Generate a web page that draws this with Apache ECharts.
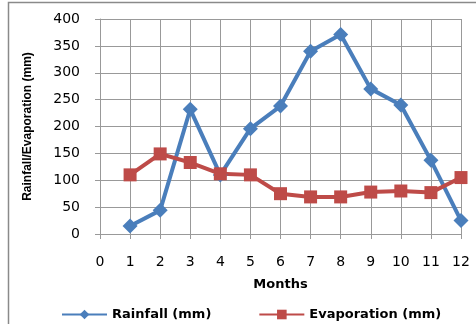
<!DOCTYPE html>
<html><head><meta charset="utf-8">
<script src="https://cdn.jsdelivr.net/npm/echarts@6/dist/echarts.min.js"></script>
<style>html,body{margin:0;padding:0;background:#fff;overflow:hidden}#c{width:476px;height:324px}</style>
</head><body><div id="c"></div>
<script>
var months = [1,2,3,4,5,6,7,8,9,10,11,12];
var rainfall = [15,44,232,110,196,238,340,371,270,240,137,25];
var evaporation = [110,149,133,112,110,75,69,69,78,80,77,105];
var seriesNames = ['Rainfall (mm)','Evaporation (mm)'];

function pairs(vals){ return months.map(function(m,i){ return [m, vals[i]]; }); }
var gridColor = '#999999';
var tickFont = 'DejaVu Sans, Verdana, sans-serif';
var chart = echarts.init(document.getElementById('c'), null, {renderer:'canvas'});
chart.setOption({
  animation:false,
  backgroundColor:'#fff',
  graphic:[{type:'rect', shape:{x:8.5,y:2.5,width:520,height:360}, style:{fill:'none',stroke:'#8a8a8a',lineWidth:1.5}, silent:true, z:-1}],
  grid:{left:100,right:15,top:19,bottom:90},
  xAxis:{type:'value',min:0,max:12,interval:1,
    name:'Months',nameLocation:'middle',nameGap:44,
    nameTextStyle:{fontFamily:tickFont,fontWeight:'bold',fontSize:13,color:'#000'},
    axisLine:{lineStyle:{color:gridColor}},
    axisTick:{show:true,length:5,lineStyle:{color:gridColor}},
    axisLabel:{fontFamily:tickFont,fontSize:14,color:'#000',margin:21},
    splitLine:{show:true,lineStyle:{color:gridColor,width:1}}},
  yAxis:{type:'value',min:0,max:400,interval:50,
    name:'Rainfall/Evaporation (mm)',nameLocation:'middle',nameGap:66,nameRotate:90,
    nameTextStyle:{fontFamily:'Liberation Sans, Arial, sans-serif',fontWeight:'bold',fontSize:12,color:'#000'},
    axisLine:{show:true,lineStyle:{color:gridColor}},
    axisTick:{show:true,length:5,lineStyle:{color:gridColor}},
    axisLabel:{fontFamily:tickFont,fontSize:14,color:'#000',margin:20},
    splitLine:{show:true,lineStyle:{color:gridColor,width:1}}},
  legend:{left:56,top:303,itemWidth:45,itemHeight:12,itemGap:47,
    textStyle:{fontFamily:tickFont,fontWeight:'bold',fontSize:13,color:'#000'},
    data:seriesNames},
  series:[
    {name:seriesNames[0],type:'line',data:pairs(rainfall),symbol:'diamond',symbolSize:[15,15],
     itemStyle:{color:'#4a7ebb'},lineStyle:{color:'#4a7ebb',width:4}},
    {name:seriesNames[1],type:'line',data:pairs(evaporation),symbol:'rect',symbolSize:13,
     itemStyle:{color:'#be4b48'},lineStyle:{color:'#be4b48',width:4}}
  ]
});
</script></body></html>
